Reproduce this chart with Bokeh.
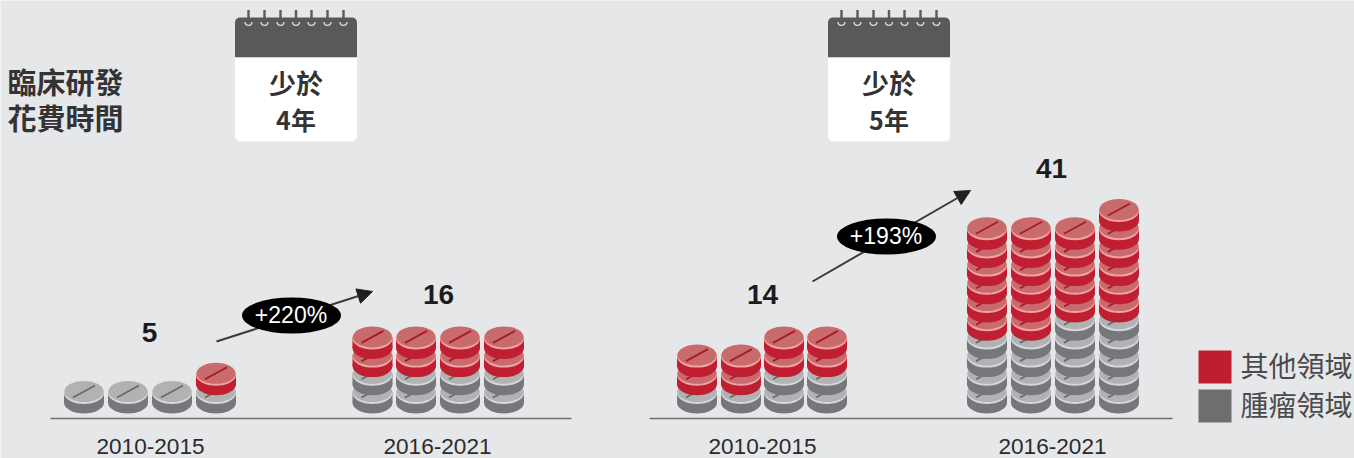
from bokeh.core.properties import value
from bokeh.embed import file_html
from bokeh.models import Arrow, ColumnDataSource, NormalHead, Range1d
from bokeh.plotting import figure
from bokeh.resources import INLINE
import math

# Number of pills per stack, bottom (oncology) and top (other areas)
short_early_oncology = [1, 1, 1, 1]
short_early_other = [0, 0, 0, 1]
short_late_oncology = [2, 2, 2, 2]
short_late_other = [2, 2, 2, 2]
long_early_oncology = [1, 1, 2, 2]
long_early_other = [2, 2, 2, 2]
long_late_oncology = [4, 4, 5, 5]
long_late_other = [6, 6, 5, 6]

period_labels = ["2010-2015", "2016-2021"]
total_labels = ["5", "16", "14", "41"]
growth_labels = ["+220%", "+193%"]
duration_labels = [("少於", "4年"), ("少於", "5年")]
row_title = ["臨床研發", "花費時間"]
legend_labels = ["其他領域", "腫瘤領域"]

BG = "#e6e7e9"
INK = "#2b2b2d"
CJK = value("Noto Sans CJK TC")
LATIN = value("Liberation Sans")
RED = dict(side="#bf1f30", rim="#f0a3a1", face="#c96a6c", slash="#a31c2c")
GRAY = dict(side="#76777a", rim="#d6d7d8", face="#b1b2b4", slash="#696a6c")

FLOOR_Y = 391   # face centre of the lowest pill
STEP = 18.2     # vertical distance between pills of one stack
RX, RY, THICK = 20, 11, 11

p = figure(width=1354, height=458, output_backend="svg", toolbar_location=None,
           x_range=Range1d(0, 1354), y_range=Range1d(458, 0), min_border=0,
           background_fill_color=BG, border_fill_color=BG, outline_line_color=None)
p.axis.visible = False
p.grid.visible = False


def label(x, y, text, size, font=LATIN, style="normal", color=INK, align="center"):
    p.text([x], [y], text=[text], text_font=font, text_font_size=f"{size}px",
           text_font_style=style, text_color=color, text_align=align,
           text_baseline="middle")


# Pills are collected per height so that upper ones overlap the lower ones
stacks = [
    ([83.5, 127.5, 171.5, 215.5], short_early_oncology, short_early_other),
    ([372, 415.5, 459.5, 503.5], short_late_oncology, short_late_other),
    ([696.5, 740.5, 783.5, 826.5], long_early_oncology, long_early_other),
    ([986.5, 1030.5, 1074.5, 1118.5], long_late_oncology, long_late_other),
]
levels = {}
for centres, lower, upper in stacks:
    for cx, n_low, n_up in zip(centres, lower, upper):
        for i in range(n_low + n_up):
            levels.setdefault(i, []).append((cx, FLOOR_Y - i * STEP, GRAY if i < n_low else RED))

for level in sorted(levels):
    rows = levels[level]
    xs = [r[0] for r in rows]
    ys = [r[1] for r in rows]
    src = ColumnDataSource(dict(
        x=xs, y=ys,
        left=[x - RX for x in xs], right=[x + RX for x in xs],
        bottom=[y + THICK for y in ys],
        under=[y + THICK for y in ys], rim_y=[y + 1.5 for y in ys],
        x0=[x - 11 for x in xs], x1=[x + 11 for x in xs],
        y0=[y + 6 for y in ys], y1=[y - 6 for y in ys],
        side=[r[2]["side"] for r in rows], rim=[r[2]["rim"] for r in rows],
        face=[r[2]["face"] for r in rows], slash=[r[2]["slash"] for r in rows],
    ))
    p.ellipse("x", "under", width=2 * RX, height=2 * RY, source=src,
              fill_color="side", line_color=None)
    p.quad(left="left", right="right", top="y", bottom="bottom", source=src,
           fill_color="side", line_color=None)
    p.ellipse("x", "rim_y", width=2 * RX, height=2 * RY, source=src,
              fill_color="rim", line_color=None)
    p.ellipse("x", "y", width=2 * RX - 1, height=2 * RY - 1, source=src,
              fill_color="face", line_color=None)
    p.segment("x0", "y0", "x1", "y1", source=src, line_color="slash", line_width=1.8)

# Baselines and period captions
for x0, x1, caption_xs in [(50, 571, (150, 437)), (649, 1172, (762, 1052))]:
    p.segment([x0], [418], [x1], [418], line_color="#6d6e70", line_width=1.6)
    for cx, caption in zip(caption_xs, period_labels):
        label(cx, 445.5, caption, 22.6)

# Totals above the stacks
for (x, y), total in zip([(149, 331.5), (438, 293.5), (762, 293.5), (1051, 167.5)], total_labels):
    label(x, y, total, 28, style="bold", color="#1c1c1e")

# Growth arrows with their oval badges
for (x0, y0, x1, y1, ox, oy), growth in zip(
        [(216, 341, 372, 291, 291, 315), (812, 281, 970, 190, 886, 236)], growth_labels):
    arrow = Arrow(x_start=x0, y_start=y0, x_end=x1, y_end=y1, line_color="#3a3a3c", line_width=2,
                  end=NormalHead(size=15, fill_color="#231f20", line_color="#231f20"))
    arrow.level = "underlay"
    p.add_layout(arrow)
    p.ellipse([ox], [oy], width=99, height=36, fill_color="#000000", line_color=None)
    label(ox - 0.5, oy - 1, growth, 23, color="#ffffff")

# Calendars
for dx, lines in zip([0, 593], duration_labels):
    p.quad(left=[234.5 + dx], right=[356.5 + dx], top=[17], bottom=[57], fill_color="#58595b",
           line_color=None, border_radius=(5, 5, 0, 0))
    p.quad(left=[234.5 + dx], right=[356.5 + dx], top=[57], bottom=[141], fill_color="#ffffff",
           line_color=None, border_radius=(0, 0, 5, 5))
    rings = [248, 264, 280, 295.5, 311, 327, 343]
    p.arc([x + dx for x in rings], [21.5] * 7, radius=3.4, start_angle=0, end_angle=math.pi,
          direction="clock", line_color="#d9dadb", line_width=1.4)
    p.segment([x + dx for x in rings], [9.5] * 7, [x + dx for x in rings], [23] * 7,
              line_color="#58595b", line_width=2.4)
    label(295.5 + dx, 81.5, lines[0], 27, font=CJK, style="bold", color="#333335")
    label(295.5 + dx, 118.5, lines[1], 25, font=CJK, style="bold", color="#333335")

# Row title
label(7, 80.5, row_title[0], 29, font=CJK, style="bold", color="#333335", align="left")
label(7, 116.5, row_title[1], 29, font=CJK, style="bold", color="#333335", align="left")

# Colour key
for top, colour, text in zip([350, 389], ["#be1e2d", "#6d6e70"], legend_labels):
    p.quad(left=[1198], right=[1231], top=[top], bottom=[top + 33], fill_color=colour, line_color=None)
    label(1240, top + 14, text, 28, font=CJK, color="#4a4a4c", align="left")

open("out.html", "w").write(file_html(p, INLINE))
